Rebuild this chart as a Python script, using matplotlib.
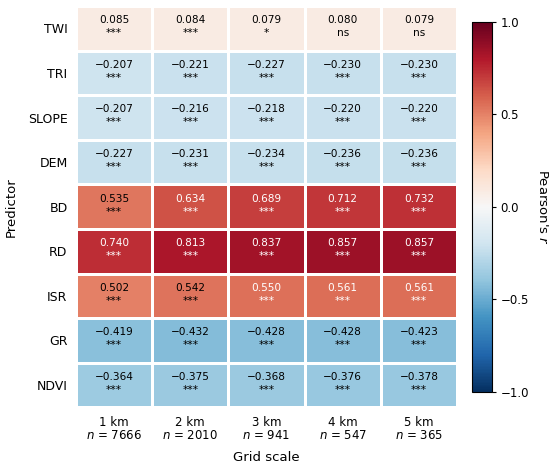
import matplotlib
matplotlib.use("Agg")
import matplotlib.pyplot as plt
import numpy as np

predictors = ["TWI", "TRI", "SLOPE", "DEM", "BD", "RD", "ISR", "GR", "NDVI"]
scales = ["1 km", "2 km", "3 km", "4 km", "5 km"]
n_values = [7666, 2010, 941, 547, 365]

r_twi = [0.085, 0.084, 0.079, 0.080, 0.079]
r_tri = [-0.207, -0.221, -0.227, -0.230, -0.230]
r_slope = [-0.207, -0.216, -0.218, -0.220, -0.220]
r_dem = [-0.227, -0.231, -0.234, -0.236, -0.236]
r_bd = [0.535, 0.634, 0.689, 0.712, 0.732]
r_rd = [0.740, 0.813, 0.837, 0.857, 0.857]
r_isr = [0.502, 0.542, 0.550, 0.561, 0.561]
r_gr = [-0.419, -0.432, -0.428, -0.428, -0.423]
r_ndvi = [-0.364, -0.375, -0.368, -0.376, -0.378]

sig_twi = ["***", "***", "*", "ns", "ns"]
sig_tri = ["***"] * 5
sig_slope = ["***"] * 5
sig_dem = ["***"] * 5
sig_bd = ["***"] * 5
sig_rd = ["***"] * 5
sig_isr = ["***"] * 5
sig_gr = ["***"] * 5
sig_ndvi = ["***"] * 5

R = np.array([r_twi, r_tri, r_slope, r_dem, r_bd, r_rd, r_isr, r_gr, r_ndvi])
S = [sig_twi, sig_tri, sig_slope, sig_dem, sig_bd, sig_rd, sig_isr, sig_gr, sig_ndvi]

fig = plt.figure(figsize=(5.5, 4.67), dpi=100)
ax = fig.add_axes([0.138, 0.128, 0.693, 0.859])
cax = fig.add_axes([0.858, 0.161, 0.036, 0.792])

mesh = ax.pcolormesh(np.arange(len(scales) + 1), np.arange(len(predictors) + 1), R,
                     cmap="RdBu_r", vmin=-1, vmax=1, edgecolors="white", linewidth=1.0)
ax.set_xlim(0, len(scales))
ax.set_ylim(len(predictors), 0)
for s in ax.spines.values():
    s.set_visible(False)

for i in range(len(predictors)):
    for j in range(len(scales)):
        v = R[i, j]
        col = "white" if v > 0.545 else "black"
        txt = f"{v:.3f}".replace("-", "\u2212")
        ax.text(j + 0.5, i + 0.32, txt, ha="center", va="center", fontsize=7.6, color=col)
        ax.text(j + 0.5, i + 0.61, S[i][j], ha="center", va="center", fontsize=7.6, color=col)

ax.set_xticks(np.arange(len(scales)) + 0.5)
ax.set_xticklabels([f"{s}\n$n$ = {n}" for s, n in zip(scales, n_values)], fontsize=8.5,
                   linespacing=1.0)
ax.set_yticks(np.arange(len(predictors)) + 0.5)
ax.set_yticklabels(predictors, fontsize=9)
ax.tick_params(axis="y", length=0, pad=6)
ax.tick_params(axis="x", length=0, pad=6)
ax.set_xlabel("Grid scale", fontsize=9.5, labelpad=7)
ax.set_ylabel("Predictor", fontsize=9.5, labelpad=7)

cb = fig.colorbar(mesh, cax=cax)
cb.set_ticks([-1.0, -0.5, 0.0, 0.5, 1.0])
cb.ax.set_yticklabels(["\u22121.0", "\u22120.5", "0.0", "0.5", "1.0"])
cb.ax.tick_params(labelsize=8.5, length=3)
cb.set_label("Pearson's $r$", rotation=270, labelpad=14, fontsize=9.5)
cb.outline.set_linewidth(0.8)

fig.savefig("out.png", dpi=100)
